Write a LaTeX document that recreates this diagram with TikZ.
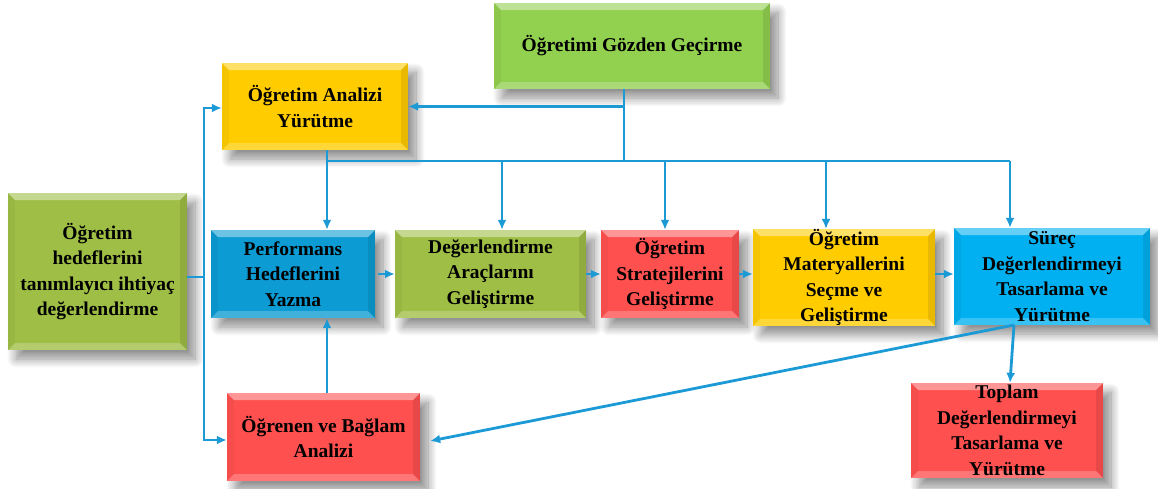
\documentclass[tikz,border=0pt]{standalone}
\usepackage{fontspec}
\setmainfont{Liberation Serif}
\usetikzlibrary{arrows.meta,shadows.blur}
\definecolor{olivebox}{HTML}{9FBE45}
\definecolor{lgreen}{HTML}{92D050}
\definecolor{ybox}{HTML}{FFCC00}
\definecolor{bbox}{HTML}{0C9BD2}
\definecolor{cbox}{HTML}{00B0F0}
\definecolor{rbox}{HTML}{FF5050}
\definecolor{linec}{HTML}{1C9AD6}
\newcommand\bevelpic{%
  \coordinate (bnw) at (path picture bounding box.north west);
  \coordinate (bne) at (path picture bounding box.north east);
  \coordinate (bsw) at (path picture bounding box.south west);
  \coordinate (bse) at (path picture bounding box.south east);
  \fill[white,opacity=.4] (bnw) -- (bne) -- ([shift={(-7pt,-7pt)}]bne) -- ([shift={(7pt,-7pt)}]bnw) -- cycle;
  \fill[white,opacity=.22] (bsw) -- (bse) -- ([shift={(-7pt,7pt)}]bse) -- ([shift={(7pt,7pt)}]bsw) -- cycle;
  \fill[black,opacity=.04] (bnw) -- (bsw) -- ([shift={(7pt,7pt)}]bsw) -- ([shift={(7pt,-7pt)}]bnw) -- cycle;
  \fill[black,opacity=.09] (bne) -- (bse) -- ([shift={(-7pt,7pt)}]bse) -- ([shift={(-7pt,-7pt)}]bne) -- cycle;
}
\tikzset{
  box/.style={fill=#1, draw=none, inner sep=0pt, align=center,
    font=\bfseries\fontsize{19.5}{25.5}\selectfont,
    blur shadow={shadow xshift=8pt, shadow yshift=-9pt, shadow opacity=45, shadow blur radius=9pt, shadow blur steps=12},
    path picture={\bevelpic}},
  conn/.style={draw=linec, line width=2.8pt},
  arr/.style={conn, -{Latex[length=10pt,width=9pt]}},
}
\begin{document}
\begin{tikzpicture}[x=1pt,y=-1pt]
\useasboundingbox (0,0) rectangle (1158,488);
\node[box=olivebox, minimum width=179pt, minimum height=157pt] (goal) at (97.5,271.5) {Öğretim\\hedeflerini\\tanımlayıcı ihtiyaç\\değerlendirme};
\node[box=lgreen, minimum width=276pt, minimum height=86pt] (gozden) at (632,46) {Öğretimi Gözden Geçirme};
\node[box=ybox, minimum width=186pt, minimum height=87pt] (analiz) at (315,106.5) {Öğretim Analizi\\Yürütme};
\node[box=bbox, minimum width=164pt, minimum height=88pt] (perf) at (293,274) {Performans\\Hedeflerini\\Yazma};
\node[box=olivebox, minimum width=191pt, minimum height=88pt] (deg) at (490.5,274) {Değerlendirme\\Araçlarını\\Geliştirme};
\node[box=rbox, minimum width=138pt, minimum height=88pt] (strat) at (670,274) {Öğretim\\Stratejilerini\\Geliştirme};
\node[box=ybox, minimum width=182pt, minimum height=95pt] (mat) at (844,277.5) {Öğretim\\Materyallerini\\Seçme ve\\Geliştirme};
\node[box=cbox, minimum width=196pt, minimum height=97pt] (surec) at (1052,276.5) {Süreç\\Değerlendirmeyi\\Tasarlama ve\\Yürütme};
\node[box=rbox, minimum width=192pt, minimum height=95pt] (toplam) at (1007,430.5) {Toplam\\Değerlendirmeyi\\Tasarlama ve\\Yürütme};
\node[box=rbox, minimum width=193pt, minimum height=88pt] (ogren) at (323.5,437) {Öğrenen ve Bağlam\\Analizi};
% left trunk
\coordinate (j1) at (204,277);
\draw[conn] (goal.east |- j1) -- (j1);
\draw[arr] (j1) |- ([yshift=-1.5pt]analiz.west);
\draw[arr] (j1) |- ([yshift=-3pt]ogren.west);
% review feedback
\coordinate (gs) at (624,89);
\coordinate (bus) at (624,161);
\draw[conn] (gs) -- (bus);
\draw[arr] (gs |- analiz.east) -- (analiz.east);
\coordinate (bl) at (327,161);
\coordinate (br) at (1010,161);
\draw[conn] (bl |- analiz.south) -- (bl) -- (br);
\draw[arr] (bl) -- (bl |- perf.north);
\coordinate (d1) at (502,161);
\coordinate (d2) at (665,161);
\coordinate (d3) at (826,161);
\draw[arr] (d1) -- (d1 |- deg.north);
\draw[arr] (d2) -- (d2 |- strat.north);
\draw[arr] (d3) -- (d3 |- mat.north);
\draw[arr] (br) -- (br |- surec.north);
% chain
\draw[arr] ([xshift=3pt]perf.east) -- (perf.east -| deg.west);
\draw[arr] (deg.east) -- (deg.east -| strat.west);
\draw[arr] (strat.east) -- (strat.east -| mat.west);
\draw[arr] (mat.east |- strat.east) -- (strat.east -| surec.west);
% learner up
\draw[arr] (bl |- ogren.north) -- (bl |- perf.south);
% from surec
\coordinate (sb) at (1014,325);
\draw[arr] (sb) -- ([xshift=3pt]toplam.north);
\draw[arr] (sb) -- ([shift={(10pt,-4pt)}]ogren.east);
\end{tikzpicture}
\end{document}
